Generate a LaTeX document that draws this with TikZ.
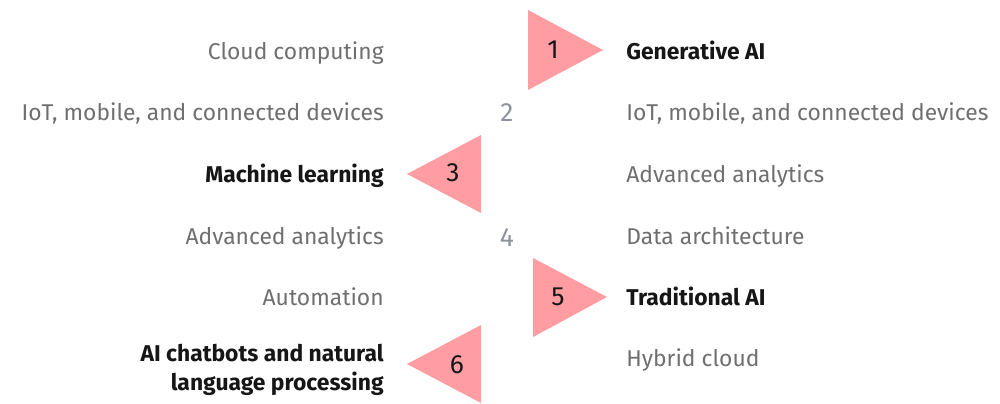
\documentclass[tikz,border=0pt]{standalone}
\usepackage{fontspec}
\setmainfont{Fira Sans}
\usetikzlibrary{positioning}
\definecolor{ibm-pink}{HTML}{FF9DA2}
\definecolor{ibm-grey}{HTML}{6F6F6F}
\definecolor{ibm-lightgrey}{HTML}{8D939B}
\definecolor{ibm-black}{HTML}{161616}
\newlength{\basisa}
\setlength{\basisa}{0.02cm}

\begin{document}
\begin{tikzpicture}[x=\basisa, y=-\basisa,
    every node/.style={inner sep=0, font=\fontsize{13}{16.4}\selectfont},
    plain/.style={text=ibm-grey},
    strong/.style={text=ibm-black, font=\fontsize{13}{16.4}\selectfont\bfseries},
    rank/.style={text=ibm-black, anchor=base, font=\fontsize{15}{18}\selectfont},
    faded/.style={text=ibm-lightgrey, anchor=base, font=\fontsize{15}{18}\selectfont},
    arrowhead/.style={fill=ibm-pink}]
    \useasboundingbox (0,0) rectangle (1000,403);

    % triangles
    \fill[arrowhead] (528,10) -- (603,50) -- (528,90) -- cycle;
    \fill[arrowhead] (481,135) -- (407,174) -- (481,213) -- cycle;
    \fill[arrowhead] (533,258) -- (607,297) -- (533,337) -- cycle;
    \fill[arrowhead] (481,325) -- (407,364) -- (481,403) -- cycle;

    % ranks
    \node[rank] (Rank_1) at (553,58) {1};
    \node[faded] (Rank_2) at (507,121) {2};
    \node[rank] (Rank_3) at (453,181) {3};
    \node[faded] (Rank_4) at (507,246) {4};
    \node[rank] (Rank_5) at (558,305) {5};
    \node[rank] (Rank_6) at (457,373) {6};

    % left column
    \node[plain, anchor=base east] (Cloud) at (384,59) {Cloud computing};
    \node[plain, anchor=base east] (IoT_left) at (384,120) {IoT, mobile, and connected devices};
    \node[strong, anchor=base east] (Machine) at (384,182) {Machine learning};
    \node[plain, anchor=base east] (Analytics_left) at (384,244) {Advanced analytics};
    \node[plain, anchor=base east] (Automation) at (384,305) {Automation};
    \node[strong, anchor=base east, align=right] (Chatbots) at (384,390)
        {AI chatbots and natural\\language processing};

    % right column
    \node[strong, anchor=base west] (Generative) at (626,59) {Generative AI};
    \node[plain, anchor=base west] (IoT_right) at (626,120) {IoT, mobile, and connected devices};
    \node[plain, anchor=base west] (Analytics_right) at (626,182) {Advanced analytics};
    \node[plain, anchor=base west] (Architecture) at (626,244) {Data architecture};
    \node[strong, anchor=base west] (Traditional) at (626,305) {Traditional AI};
    \node[plain, anchor=base west] (Hybrid) at (626,366) {Hybrid cloud};
\end{tikzpicture}
\end{document}
